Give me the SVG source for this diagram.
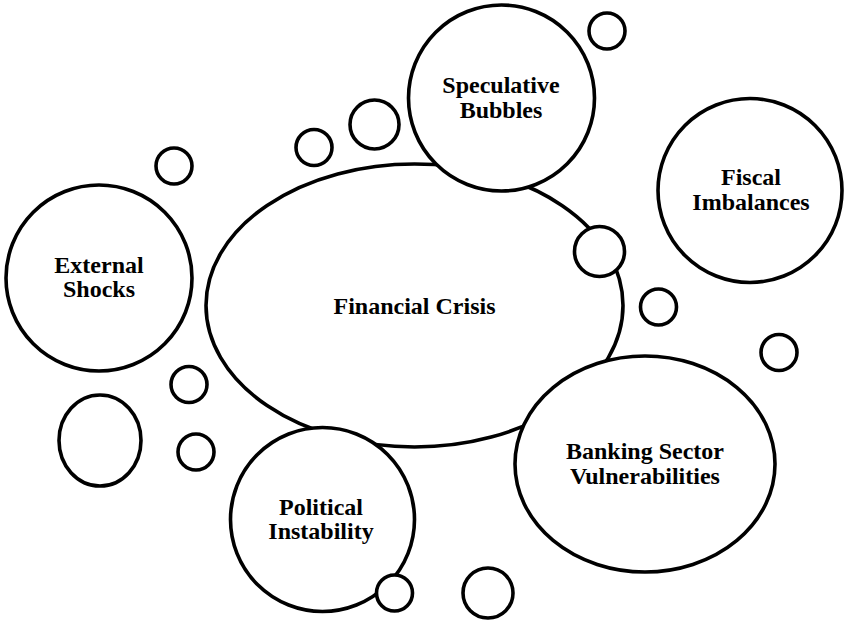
<svg xmlns="http://www.w3.org/2000/svg" width="846" height="624" viewBox="0 0 846 624">
  <style>
    .shape { fill: #ffffff; stroke: #000000; stroke-width: 3.6; }
    .label { font-family: "Liberation Serif", "Times New Roman", serif; font-weight: bold; font-size: 24px; fill: #000000; text-anchor: middle; }
  </style>
  <rect width="846" height="624" fill="#ffffff"/>
  <g id="financial-crisis">
    <ellipse class="shape" cx="414.5" cy="305.5" rx="208.5" ry="141.5"/>
    <text class="label" x="414.5" y="314">Financial Crisis</text>
  </g>
  <g id="connectors"></g>
  <g id="speculative-bubbles">
    <circle class="shape" cx="501.5" cy="98" r="93"/>
    <text class="label" x="501" y="93">Speculative</text>
    <text class="label" x="501" y="118">Bubbles</text>
  </g>
  <g id="fiscal-imbalances">
    <circle class="shape" cx="750" cy="190.5" r="92"/>
    <text class="label" x="751" y="185">Fiscal</text>
    <text class="label" x="751" y="210">Imbalances</text>
  </g>
  <g id="external-shocks">
    <circle class="shape" cx="99" cy="278" r="93"/>
    <text class="label" x="99" y="273">External</text>
    <text class="label" x="99" y="297">Shocks</text>
  </g>
  <g id="banking-sector-vulnerabilities">
    <ellipse class="shape" cx="645" cy="464" rx="130" ry="108"/>
    <text class="label" x="645" y="459">Banking Sector</text>
    <text class="label" x="645" y="484">Vulnerabilities</text>
  </g>
  <g id="political-instability">
    <circle class="shape" cx="322.5" cy="519.5" r="92"/>
    <text class="label" x="321" y="515">Political</text>
    <text class="label" x="321" y="539">Instability</text>
  </g>
  <g id="bubbles">
    <circle id="bubble-1" class="shape" cx="607" cy="31" r="18"/>
    <circle id="bubble-2" class="shape" cx="374.5" cy="124.5" r="24.5"/>
    <circle id="bubble-3" class="shape" cx="314" cy="147.5" r="18"/>
    <circle id="bubble-4" class="shape" cx="174" cy="166" r="18"/>
    <circle id="bubble-5" class="shape" cx="599.5" cy="251.5" r="25"/>
    <circle id="bubble-6" class="shape" cx="658.5" cy="307" r="18"/>
    <circle id="bubble-7" class="shape" cx="779" cy="352.5" r="18"/>
    <circle id="bubble-8" class="shape" cx="189" cy="384.5" r="18"/>
    <ellipse id="bubble-9" class="shape" cx="100" cy="440.5" rx="41" ry="45.5"/>
    <circle id="bubble-10" class="shape" cx="196" cy="452" r="18"/>
    <circle id="bubble-11" class="shape" cx="394.5" cy="593" r="18"/>
    <circle id="bubble-12" class="shape" cx="488" cy="593" r="25"/>
  </g>
</svg>
